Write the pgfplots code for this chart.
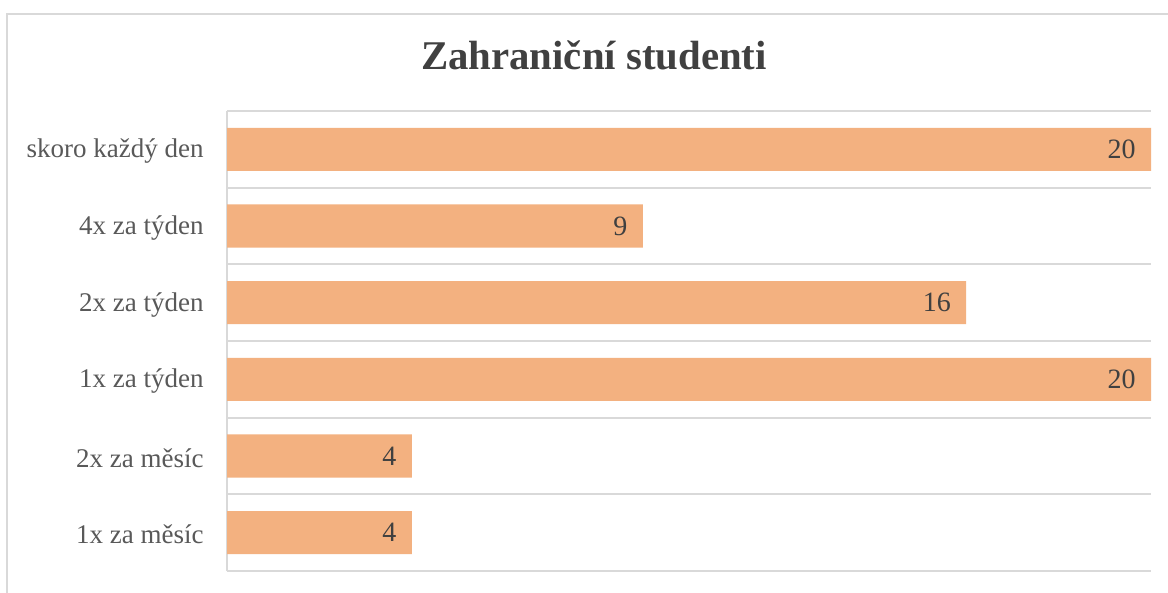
\documentclass[border=0pt]{standalone}
\usepackage{pgfplots}
\pgfplotsset{compat=1.18}
\usepackage{fontspec}
\setmainfont{Liberation Serif}
\definecolor{barc}{HTML}{F3B180}
\definecolor{gridc}{HTML}{D9D9D9}
\definecolor{labc}{HTML}{595959}
\definecolor{valc}{HTML}{404040}
\begin{document}
\begin{tikzpicture}
\useasboundingbox (0,0) rectangle (584bp,296.5bp);
\fill[white] (0,0) rectangle (584bp,296.5bp);
\draw[gridc, line width=1bp] (3.5bp,-10bp) rectangle (600bp,289.5bp);
\node[font=\fontsize{20.4bp}{24bp}\selectfont\bfseries, text=valc, anchor=base] at (297bp,261.5bp) {Zahraniční studenti};
\begin{axis}[
  at={(113.5bp,11bp)}, anchor=south west,
  scale only axis, width=462bp, height=230bp,
  /pgf/number format/assume math mode=true,
  xbar, bar width=21.5bp, bar shift=0pt,
  xmin=0, xmax=20, ymin=-0.5, ymax=5.5,
  xtick=\empty,
  ytick={0,1,2,3,4,5},
  yticklabels={1x za měsíc,2x za měsíc,1x za týden,2x za týden,4x za týden,skoro každý den},
  yticklabel style={font=\fontsize{13.5bp}{15bp}\selectfont, text=labc, inner sep=0pt, xshift=-11.5bp, yshift=-1bp},
  major tick length=0pt, minor tick length=0pt,
  minor ytick={-0.5,0.5,1.5,2.5,3.5,4.5,5.5},
  yminorgrids, minor grid style={draw=gridc, line width=1bp},
  axis lines*=left, axis line style={draw=gridc, line width=1bp, -},
  nodes near coords,
  every node near coord/.append style={anchor=east, inner sep=0pt, xshift=-7.5bp, font=\fontsize{14bp}{16bp}\selectfont, text=valc},
  clip=false,
]
\addplot[fill=barc, draw=none] coordinates {(4,0) (4,1) (20,2) (16,3) (9,4) (20,5)};
\end{axis}
\end{tikzpicture}
\end{document}
